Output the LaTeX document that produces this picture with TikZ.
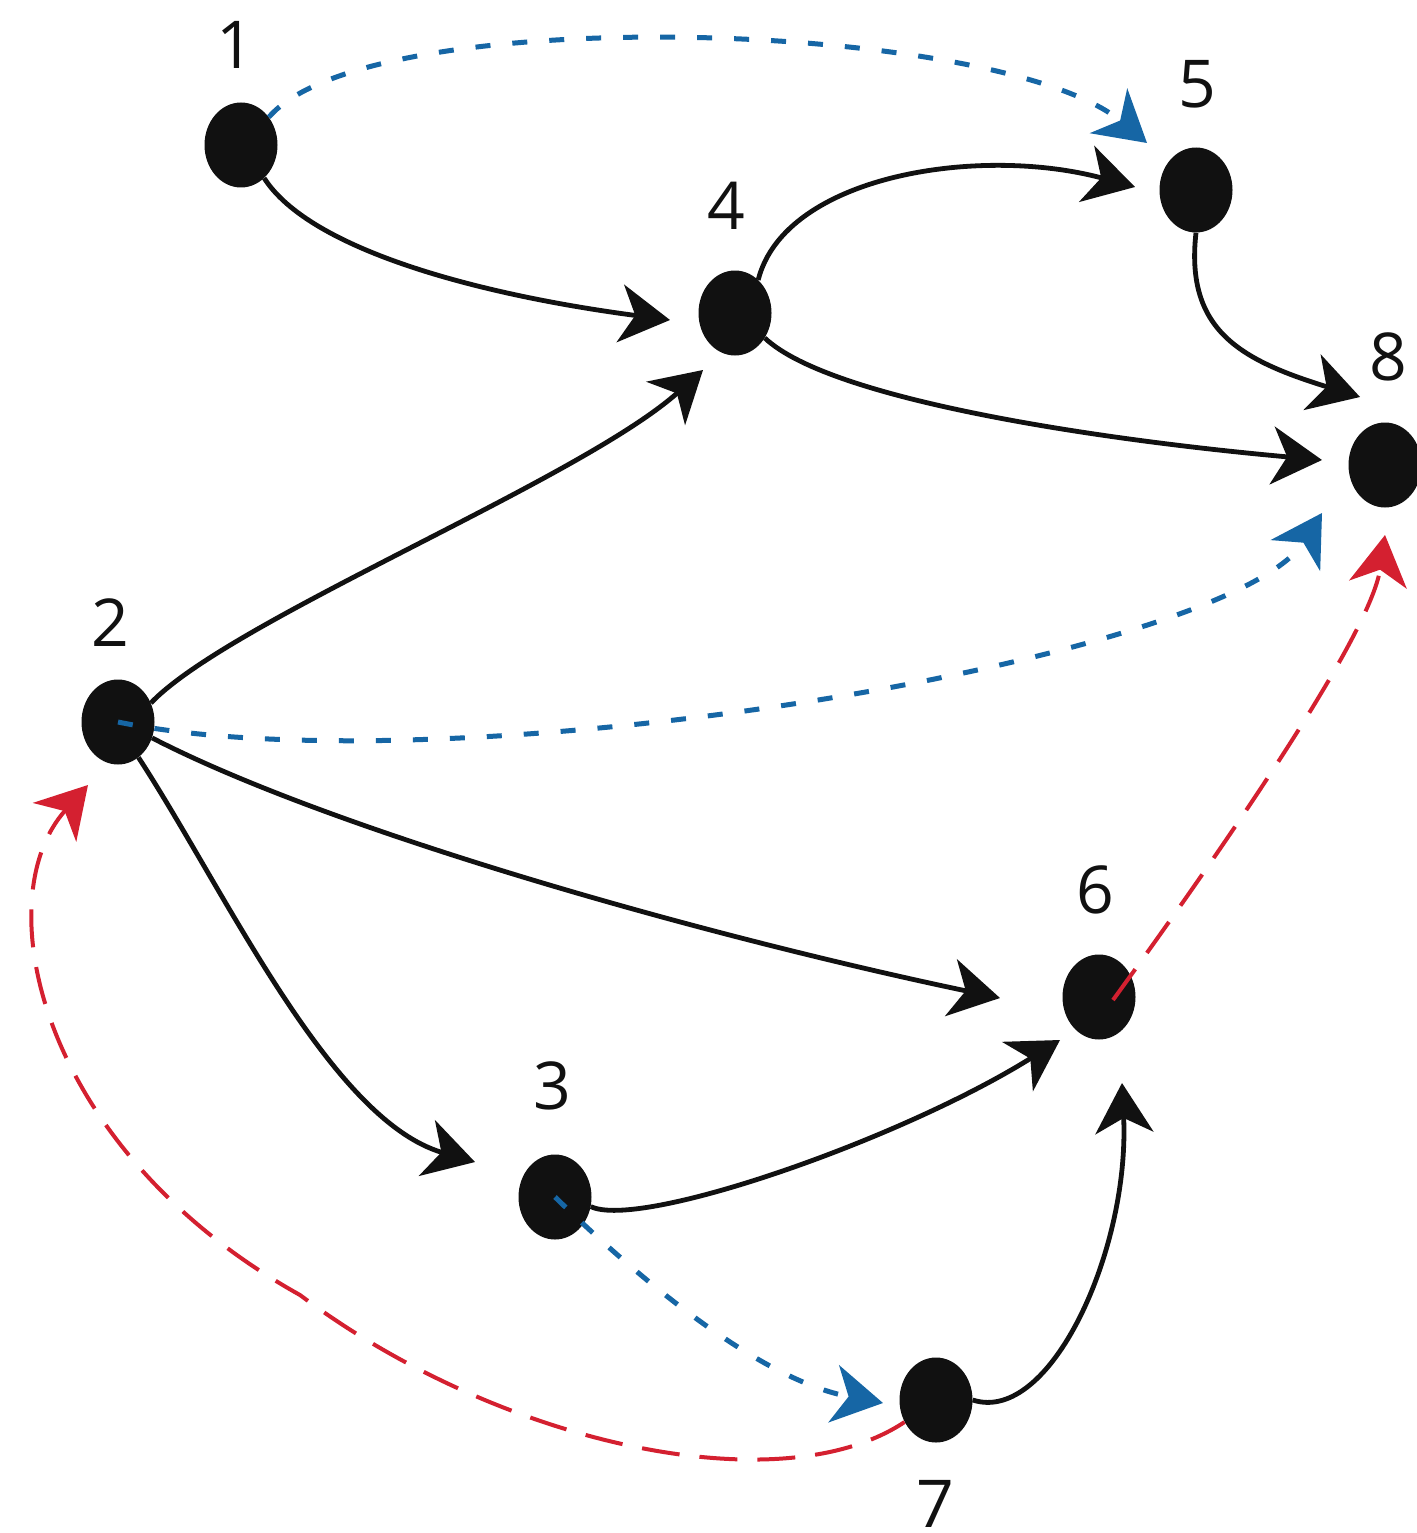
\documentclass[tikz,border=0pt]{standalone}
\usepackage{fontspec}
\setmainfont{Open Sans}
\usetikzlibrary{arrows.meta,shapes.geometric}
\definecolor{bluedot}{RGB}{22,102,165}
\definecolor{reddash}{RGB}{212,32,48}
\definecolor{nodeblack}{RGB}{17,17,17}
\tikzset{
  vertex/.style={ellipse,fill=nodeblack,draw=none,minimum width=73pt,minimum height=85pt,inner sep=0pt},
  lbl/.style={inner sep=0pt,font=\fontsize{66}{70}\selectfont,text=nodeblack},
  tipk/.style={-{Stealth[length=50pt,width=58pt,inset=15pt]}},
  solidedge/.style={tipk,draw=nodeblack,line width=4.8pt},
  blueedge/.style={tipk,draw=bluedot,line width=5pt,dash pattern=on 15pt off 22pt},
  rededge/.style={tipk,draw=reddash,line width=4pt,dash pattern=on 38pt off 20pt}
}
\begin{document}
\begin{tikzpicture}[x=1pt,y=-1pt]
\useasboundingbox (0,0) rectangle (1416,1533);
\fill[white] (0,0) rectangle (1416,1533);
% nodes
\node[vertex] (n1) at (241,145) {};
\node[vertex] (n2) at (118,722) {};
\node[vertex] (n3) at (555,1197) {};
\node[vertex] (n4) at (735,313) {};
\node[vertex] (n5) at (1196,190) {};
\node[vertex] (n6) at (1099,997) {};
\node[vertex] (n7) at (936,1400) {};
\node[vertex] (n8) at (1385,465) {};
% labels
\node[lbl] (l1) at (235,45) {1};
\node[lbl] (l2) at (110,623) {2};
\node[lbl] (l3) at (552,1086) {3};
\node[lbl] (l4) at (726,206) {4};
\node[lbl] (l5) at (1197,84) {5};
\node[lbl] (l6) at (1095,890) {6};
\node[lbl] (l7) at (935,1504) {7};
\node[lbl] (l8) at (1388,357) {8};
% black edges
\draw[solidedge] (n1.-55) .. controls (310,250) and (480,295) .. ([shift={(-65,7)}]n4.center);
\draw[solidedge] (n4.55) .. controls (785,175) and (980,145) .. ([shift={(-61,-3)}]n5.center);
\draw[solidedge] (n4.-40) .. controls (830,400) and (1100,440) .. ([shift={(-63,-5)}]n8.center);
\draw[solidedge] (n5.south) .. controls (1185,330) and (1240,360) .. ([shift={(-25,-68)}]n8.center);
\draw[solidedge] (n2.30) .. controls (230,620) and (580,480) .. ([shift={(-32,57)}]n4.center);
\draw[solidedge] (n2.-25) .. controls (330,830) and (700,935) .. ([shift={(-99,1)}]n6.center);
\draw[solidedge] (n2.-60) .. controls (225,890) and (330,1120) .. ([shift={(-80,-35)}]n3.center);
\draw[solidedge] (n3.-15) .. controls (640,1230) and (900,1140) .. ([shift={(-39,43)}]n6.center);
\draw[solidedge] (n7.east) .. controls (1050,1425) and (1130,1250) .. ([shift={(23,86)}]n6.center);
% blue dotted edges
\draw[blueedge] (n1.45) .. controls (370,0) and (1000,20) .. ([shift={(-49,-47)}]n5.center);
\draw[blueedge] (n2.center) .. controls (450,790) and (1230,660) .. ([shift={(-63,48)}]n8.center);
\draw[blueedge] (n3.center) .. controls (640,1280) and (760,1380) .. ([shift={(-53,3)}]n7.center);
% red dashed edges
\draw[rededge] (n7.215) .. controls (780,1505) and (500,1445) .. (300,1295)
  .. controls (40,1150) and (-15,900) .. ([shift={(-30,63)}]n2.center);
\draw[rededge] ([shift={(14,3)}]n6.center) .. controls (1200,880) and (1370,640) .. ([shift={(0,70)}]n8.center);
\end{tikzpicture}
\end{document}
